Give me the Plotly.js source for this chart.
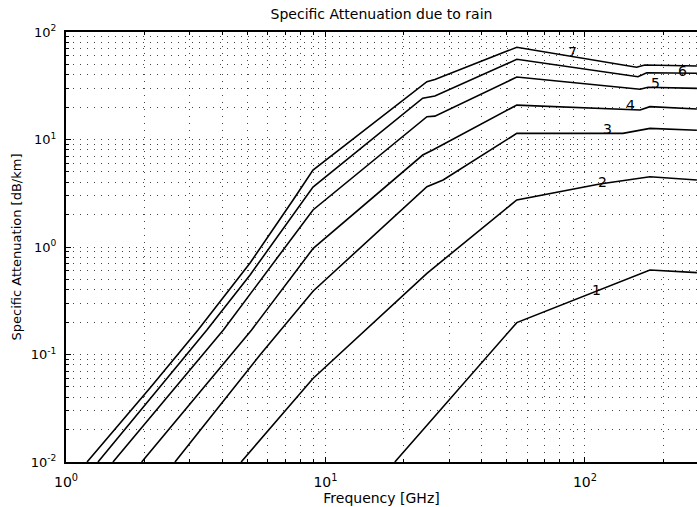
<!DOCTYPE html>
<html><head><meta charset="utf-8">
<script src="https://cdn.plot.ly/plotly-3.0.1.min.js"></script>
<style>body{margin:0;padding:0;background:#fff}</style>
</head><body><div id="chart" style="width:697px;height:507px"></div>
<script>
// Frequency [GHz] and specific attenuation [dB/km] for each rain curve
const freq1  = [18.5, 54.6, 178, 270];
const atten1 = [0.01, 0.198, 0.611, 0.577];
const freq2  = [4.73, 8.95, 24.6, 54.6, 114, 178, 270];
const atten2 = [0.01, 0.0598, 0.569, 2.74, 3.85, 4.51, 4.2];
const freq3  = [2.63, 5.59, 8.97, 24.6, 28.4, 54.6, 140, 178, 270];
const atten3 = [0.01, 0.099, 0.39, 3.64, 4.2, 11.4, 11.4, 12.7, 12.2];
const freq4  = [1.957, 5.19, 8.97, 23.7, 25.9, 54.6, 163, 178, 270];
const atten4 = [0.01, 0.169, 0.973, 7.17, 7.98, 20.9, 18.8, 20.2, 19.2];
const freq5  = [1.517, 4.04, 8.95, 24.6, 26.4, 54.6, 163, 175, 270];
const atten5 = [0.01, 0.169, 2.21, 16.3, 16.5, 38.1, 29.3, 30.6, 29.9];
const freq6  = [1.328, 3.49, 5.12, 8.95, 23.7, 26.4, 54.6, 160, 173, 270];
const atten6 = [0.01, 0.169, 0.55, 3.61, 24.2, 25.4, 55.7, 38.4, 41.8, 41.3];
const freq7  = [1.205, 2.107, 3.226, 5.12, 7.5, 8.95, 24.6, 26.4, 54.6, 158, 170, 270];
const atten7 = [0.01, 0.0488, 0.169, 0.71, 2.74, 5.2, 34.5, 36.1, 72.1, 47, 49.3, 48.3];

// Curve labels
const curveLabels = ['1', '2', '3', '4', '5', '6', '7'];
const labelFreq   = [111.2, 117.3, 122.6, 150.4, 187.7, 238.6, 89.9];
const labelAtten  = [0.398, 4.05, 12.5, 20.9, 33.5, 43.6, 65.6];

// Tick labels
const xTickVals = [1, 10, 100];
const xTickText = ['10<sup>0</sup>', '10<sup>1</sup>', '10<sup>2</sup>'];
const yTickVals = [0.01, 0.1, 1, 10, 100];
const yTickText = ['10<sup>-2</sup>', '10<sup>-1</sup>', '10<sup>0</sup>', '10<sup>1</sup>', '10<sup>2</sup>'];

const freqs = [freq1, freq2, freq3, freq4, freq5, freq6, freq7];
const attens = [atten1, atten2, atten3, atten4, atten5, atten6, atten7];

function minorVals(decades) {
  const out = [];
  decades.forEach(d => { for (let k = 2; k <= 9; k++) out.push(k * d); });
  return out;
}

const traces = freqs.map((f, i) => ({
  x: f, y: attens[i], type: 'scatter', mode: 'lines',
  line: {color: '#000', width: 1.6}, hoverinfo: 'skip', showlegend: false
}));

const FONT = 'DejaVu Sans, Liberation Sans, Arial, sans-serif';
const gridDash = '1px,6px';
const gridColor = '#444';

const annotations = curveLabels.map((t, i) => ({
  x: Math.log10(labelFreq[i]), y: Math.log10(labelAtten[i]),
  xref: 'x', yref: 'y', text: t, showarrow: false,
  font: {family: FONT, size: 14, color: '#000'}
}));

const layout = {
  width: 697, height: 507,
  margin: {l: 66, r: 0, t: 32, b: 45, pad: 0},
  paper_bgcolor: '#fff', plot_bgcolor: '#fff',
  showlegend: false,
  font: {family: FONT, size: 13, color: '#000'},
  title: {text: 'Specific Attenuation due to rain', font: {family: FONT, size: 14, color: '#000'},
          xref: 'paper', x: 0.5, xanchor: 'center', yref: 'container', y: 0.972, yanchor: 'middle'},
  xaxis: {
    type: 'log', range: [0, Math.log10(270.2)],
    tickmode: 'array', tickvals: xTickVals, ticktext: xTickText,
    ticks: 'inside', ticklen: 5, tickwidth: 1, tickcolor: '#000',
    showline: true, linecolor: '#000', linewidth: 2, mirror: 'ticks',
    showgrid: true, gridcolor: gridColor, griddash: gridDash, gridwidth: 1,
    zeroline: false, ticklabelstandoff: 6,
    tickfont: {family: FONT, size: 14, color: '#000'},
    minor: {tickmode: 'array', tickvals: minorVals([1, 10, 100]), ticks: 'inside', ticklen: 3,
            tickcolor: '#000', showgrid: true, gridcolor: gridColor, griddash: gridDash, gridwidth: 1},
    title: {text: 'Frequency [GHz]', font: {family: FONT, size: 14, color: '#000'}, standoff: 2}
  },
  yaxis: {
    type: 'log', range: [-2, 2],
    tickmode: 'array', tickvals: yTickVals, ticktext: yTickText,
    ticks: 'inside', ticklen: 5, tickwidth: 1, tickcolor: '#000',
    showline: true, linecolor: '#000', linewidth: 2, mirror: false,
    showgrid: true, gridcolor: gridColor, griddash: gridDash, gridwidth: 1,
    zeroline: false, ticklabelstandoff: 5,
    tickfont: {family: FONT, size: 13, color: '#000'},
    minor: {tickmode: 'array', tickvals: minorVals([0.01, 0.1, 1, 10]), ticks: 'inside', ticklen: 3,
            tickcolor: '#000', showgrid: true, gridcolor: gridColor, griddash: gridDash, gridwidth: 1},
    title: {text: 'Specific Attenuation [dB/km]', font: {family: FONT, size: 13, color: '#000'}, standoff: 6}
  },
  annotations: annotations
};

Plotly.newPlot('chart', traces, layout, {displayModeBar: false, staticPlot: true});
</script>
</body></html>
